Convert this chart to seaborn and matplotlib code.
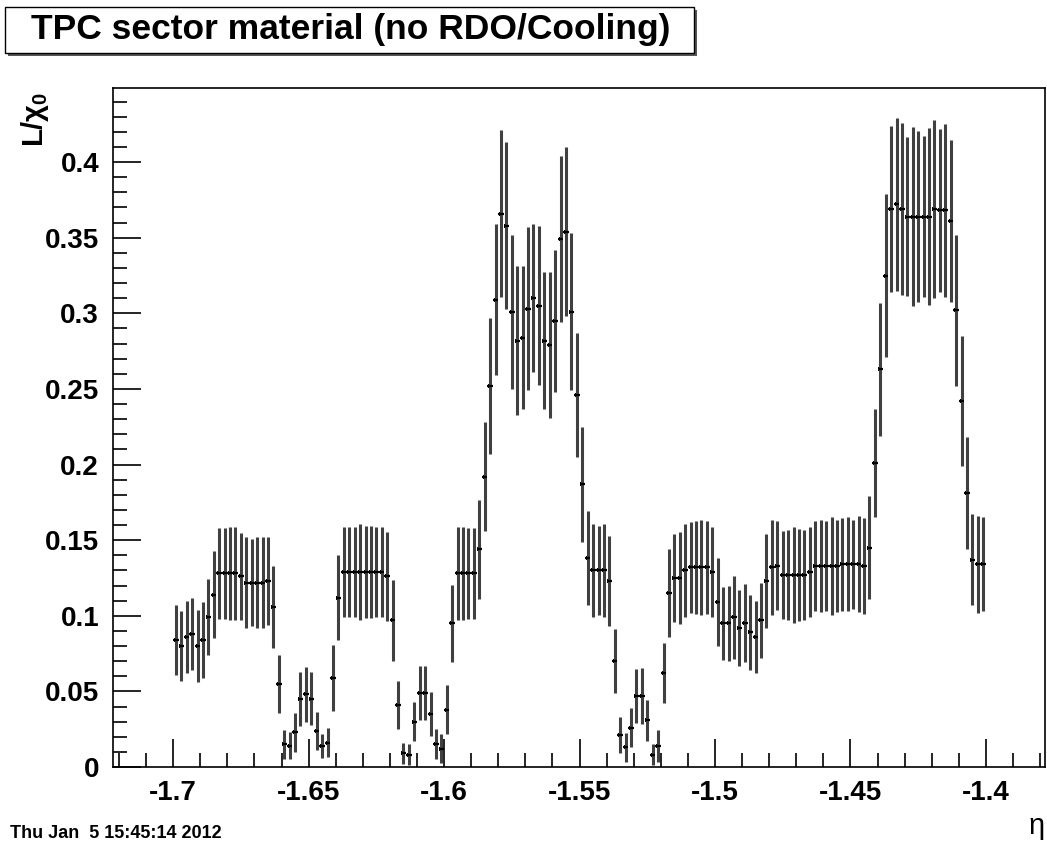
import numpy as np
import matplotlib
matplotlib.use("Agg")
import matplotlib.pyplot as plt
from matplotlib.patches import Rectangle
from matplotlib.ticker import MultipleLocator
import seaborn as sns

# histogram binning: 150 bins in eta
eta_min, eta_max, n_bins = -1.7, -1.4, 150

# L/X0 per bin
radlen = [
    0.084, 0.080, 0.086, 0.088, 0.080, 0.084, 0.099, 0.114, 0.128, 0.128,
    0.128, 0.128, 0.126, 0.122, 0.122, 0.122, 0.122, 0.123, 0.106, 0.055,
    0.015, 0.014, 0.023, 0.045, 0.048, 0.045, 0.024, 0.014, 0.016, 0.059,
    0.112, 0.129, 0.129, 0.129, 0.129, 0.129, 0.129, 0.129, 0.129, 0.126,
    0.097, 0.041, 0.009, 0.008, 0.030, 0.049, 0.049, 0.035, 0.015, 0.012,
    0.038, 0.095, 0.128, 0.128, 0.128, 0.128, 0.144, 0.192, 0.252, 0.309,
    0.366, 0.358, 0.301, 0.282, 0.284, 0.303, 0.310, 0.305, 0.282, 0.279,
    0.295, 0.349, 0.354, 0.301, 0.246, 0.187, 0.138, 0.130, 0.130, 0.130,
    0.123, 0.070, 0.021, 0.013, 0.026, 0.047, 0.047, 0.031, 0.008, 0.014,
    0.062, 0.115, 0.125, 0.125, 0.130, 0.132, 0.132, 0.132, 0.132, 0.129,
    0.109, 0.095, 0.095, 0.099, 0.092, 0.095, 0.089, 0.086, 0.097, 0.123,
    0.132, 0.133, 0.127, 0.127, 0.127, 0.127, 0.127, 0.129, 0.133, 0.133,
    0.133, 0.133, 0.133, 0.134, 0.134, 0.134, 0.134, 0.133, 0.145, 0.201,
    0.263, 0.325, 0.369, 0.372, 0.369, 0.364, 0.364, 0.364, 0.364, 0.364,
    0.369, 0.368, 0.368, 0.361, 0.302, 0.242, 0.181, 0.137, 0.134, 0.134,
]

radlen_err = [
    0.023, 0.023, 0.024, 0.024, 0.024, 0.025, 0.025, 0.029, 0.030, 0.030,
    0.031, 0.031, 0.029, 0.030, 0.029, 0.030, 0.030, 0.029, 0.027, 0.019,
    0.0094, 0.009, 0.013, 0.018, 0.018, 0.0175, 0.0125, 0.008, 0.0095, 0.022,
    0.028, 0.0295, 0.030, 0.030, 0.0315, 0.0305, 0.0305, 0.030, 0.030, 0.0295,
    0.0267, 0.016, 0.007, 0.007, 0.013, 0.0177, 0.018, 0.0145, 0.010, 0.0095,
    0.016, 0.0255, 0.031, 0.031, 0.030, 0.030, 0.0326, 0.036, 0.045, 0.050,
    0.055, 0.055, 0.051, 0.049, 0.047, 0.054, 0.049, 0.0525, 0.0454, 0.048,
    0.047, 0.055, 0.056, 0.052, 0.041, 0.038, 0.031, 0.031, 0.0294, 0.0305,
    0.030, 0.021, 0.012, 0.0095, 0.0128, 0.018, 0.0184, 0.0135, 0.007, 0.0104,
    0.020, 0.029, 0.0292, 0.0305, 0.031, 0.030, 0.031, 0.0314, 0.031, 0.030,
    0.029, 0.024, 0.0247, 0.0273, 0.0253, 0.0257, 0.0249, 0.0236, 0.0248, 0.031,
    0.0316, 0.0295, 0.0293, 0.0295, 0.0315, 0.0302, 0.0296, 0.030, 0.030, 0.0302,
    0.030, 0.0326, 0.0303, 0.0309, 0.031, 0.0292, 0.0317, 0.0315, 0.034, 0.036,
    0.044, 0.054, 0.055, 0.057, 0.057, 0.0525, 0.059, 0.0563, 0.0535, 0.0584,
    0.0587, 0.0539, 0.0573, 0.0535, 0.050, 0.043, 0.037, 0.030, 0.032, 0.031,
]

title = "TPC sector material (no RDO/Cooling)"
stamp = "Thu Jan  5 15:45:14 2012"
x_ticks = [-1.7, -1.65, -1.6, -1.55, -1.5, -1.45, -1.4]
y_ticks = [0, 0.05, 0.1, 0.15, 0.2, 0.25, 0.3, 0.35, 0.4]

edges = np.linspace(eta_min, eta_max, n_bins + 1)
eta = 0.5 * (edges[:-1] + edges[1:])
half_w = 0.5 * (edges[1] - edges[0])

sns.set_theme(style="white")
plt.rcParams["font.family"] = ["Liberation Sans", "DejaVu Sans"]
plt.rcParams["mathtext.fontset"] = "dejavusans"
plt.rcParams["mathtext.default"] = "regular"

W, H = 1047, 844
fig = plt.figure(figsize=(W / 100, H / 100), dpi=100)
ax = fig.add_axes([113 / W, (H - 767) / H, 932 / W, 679 / H])

ax.errorbar(eta, radlen, yerr=radlen_err, fmt="none", ecolor="#404040",
            elinewidth=2.2, capsize=0)
ax.errorbar(eta, radlen, xerr=half_w, fmt="none", ecolor="black",
            elinewidth=1.6, capsize=0)
sns.scatterplot(x=eta, y=radlen, ax=ax, marker="s", s=5, color="black",
                linewidth=0, legend=False)

ax.set_xlim(-1.7222, -1.3782)
ax.set_ylim(0, 0.449)
ax.set_xticks(x_ticks, labels=[f"{t:g}" for t in x_ticks])
ax.set_yticks(y_ticks, labels=[f"{t:g}" for t in y_ticks])
ax.xaxis.set_minor_locator(MultipleLocator(0.01))
ax.yaxis.set_minor_locator(MultipleLocator(0.01))
ax.tick_params(which="both", direction="in", bottom=True, left=True,
               top=False, right=False, color="black", width=1.2)
ax.tick_params(which="major", length=20, labelsize=20, labelcolor="black")
ax.tick_params(which="minor", length=10)
ax.tick_params(axis="x", which="major", pad=9)
ax.tick_params(axis="y", which="major", pad=10)
for lab in ax.get_xticklabels() + ax.get_yticklabels():
    lab.set_fontweight("bold")
for sp in ax.spines.values():
    sp.set_color("black")
    sp.set_linewidth(1.2)
ax.grid(False)

# title pave with shadow
fig.add_artist(Rectangle((8 / W, (H - 56) / H), 689 / W, 46 / H,
                         transform=fig.transFigure, fc="#555555", ec="none"))
fig.add_artist(Rectangle((5 / W, (H - 53) / H), 689 / W, 46 / H,
                         transform=fig.transFigure, fc="white", ec="black", lw=1))
fig.text(351 / W, (H - 30) / H, title, ha="center", va="center",
         fontsize=25.5, fontweight="bold", color="black")

fig.text(35 / W, (H - 92) / H, r"L/$\chi_0$", rotation=90, ha="center",
         va="top", fontsize=21, fontweight="bold", color="black")
fig.text(1036 / W, (H - 828) / H, r"$\eta$", ha="center", va="center",
         fontsize=21, color="black")
fig.text(10 / W, (H - 833) / H, stamp, ha="left", va="center",
         fontsize=13, fontweight="bold", color="black")

fig.savefig("out.png", dpi=100)
